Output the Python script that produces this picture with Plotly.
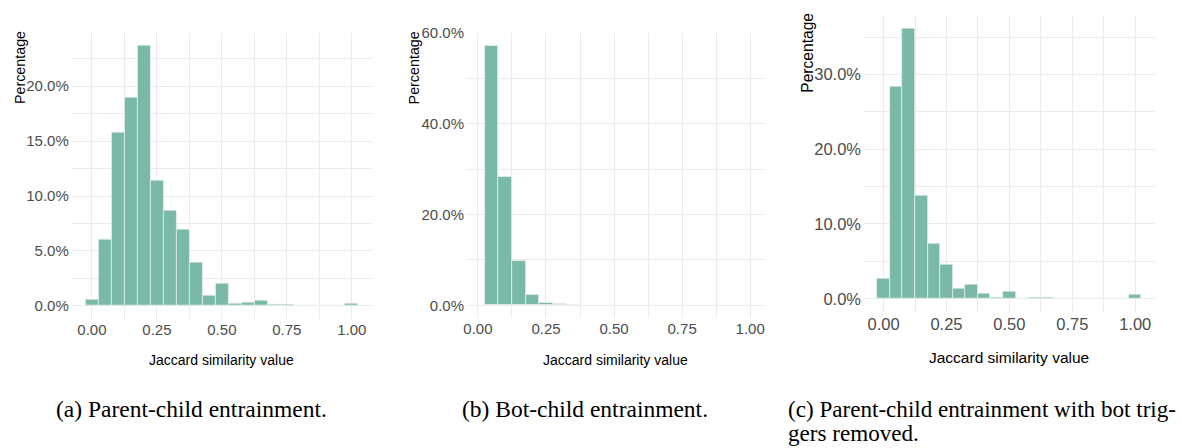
import plotly.graph_objects as go

W, H = 1182, 448

# ---- data (bin centres, percentage per bin) ----
bins_a = [0.00, 0.05, 0.10, 0.15, 0.20, 0.25, 0.30, 0.35, 0.40, 0.45, 0.50,
          0.55, 0.60, 0.65, 0.70, 0.75, 0.80, 0.85, 0.90, 0.95, 1.00]
pct_a = [0.54, 6.06, 15.76, 18.99, 23.70, 11.37, 8.69, 6.93, 3.97, 0.93, 2.00,
         0.20, 0.27, 0.50, 0.09, 0.12, 0.0, 0.0, 0.0, 0.0, 0.20]

bins_b = [0.05, 0.10, 0.15, 0.20, 0.25, 0.30, 0.35]
pct_b = [57.2, 28.3, 9.75, 2.24, 0.58, 0.20, 0.12]

bins_c = [0.00, 0.05, 0.10, 0.15, 0.20, 0.25, 0.30, 0.35, 0.40, 0.45, 0.50,
          0.55, 0.60, 0.65, 0.70, 0.75, 0.80, 0.85, 0.90, 0.95, 1.00]
pct_c = [2.76, 28.4, 36.2, 13.84, 7.4, 4.6, 1.36, 1.95, 0.63, 0.13, 0.92,
         0.0, 0.13, 0.13, 0.0, 0.0, 0.0, 0.0, 0.0, 0.0, 0.57]

x_ticks = [0.0, 0.25, 0.5, 0.75, 1.0]
x_ticktext = ["0.00", "0.25", "0.50", "0.75", "1.00"]
y_ticks_a = [0, 5, 10, 15, 20]
y_ticktext_a = ["0.0%", "5.0%", "10.0%", "15.0%", "20.0%"]
y_ticks_b = [0, 20, 40, 60]
y_ticktext_b = ["0.0%", "20.0%", "40.0%", "60.0%"]
y_ticks_c = [0, 10, 20, 30]
y_ticktext_c = ["0.0%", "10.0%", "20.0%", "30.0%"]

x_title = "Jaccard similarity value"
y_title = "Percentage"
captions = ["(a) Parent-child entrainment.",
            "(b) Bot-child entrainment.",
            "(c) Parent-child entrainment with bot trig-",
            "gers removed."]

BAR = "rgb(122,185,168)"
EDGE = "rgba(236,240,242,0.9)"
GRID = "#ebebeb"
TICKC = "#4d4d4d"
SANS = "Liberation Sans, Arial, sans-serif"
SERIF = "Liberation Serif, Times New Roman, serif"


def fx(p):
    return p / W


def fy(p):
    return 1 - p / H


fig = go.Figure()
for i, (bx, py) in enumerate([(bins_a, pct_a), (bins_b, pct_b), (bins_c, pct_c)]):
    sfx = "" if i == 0 else str(i + 1)
    fig.add_trace(go.Bar(x=bx, y=py, width=0.05, xaxis="x" + sfx, yaxis="y" + sfx,
                         marker=dict(color=BAR, line=dict(color=EDGE, width=0.8)),
                         showlegend=False))

# panel geometry in pixels: (left, right, top, bottom), x-range, y-range, ticks
panels = [
    dict(l=68.1, r=369.5, t=25.0, b=316.5, xr=[-0.0775, 1.0775], yr=[-1.185, 24.885],
         yt=y_ticks_a, ytt=y_ticktext_a, ydt=2.5, fs=15),
    dict(l=465.0, r=763.3, t=25.4, b=315.9, xr=[-0.040, 1.051], yr=[-2.86, 60.06],
         yt=y_ticks_b, ytt=y_ticktext_b, ydt=10, fs=15),
    dict(l=863.7, r=1155.6, t=6.7, b=309.8, xr=[-0.0775, 1.0775], yr=[-1.81, 38.01],
         yt=y_ticks_c, ytt=y_ticktext_c, ydt=5, fs=16.5),
]

layout = dict(width=W, height=H, margin=dict(l=0, r=0, t=0, b=0),
              paper_bgcolor="white", plot_bgcolor="white", bargap=0,
              showlegend=False)

for i, p in enumerate(panels):
    sfx = "" if i == 0 else str(i + 1)
    layout["xaxis" + sfx] = dict(
        domain=[fx(p["l"]), fx(p["r"])], range=p["xr"], anchor="y" + sfx,
        tickmode="array", tickvals=x_ticks, ticktext=x_ticktext,
        showgrid=True, gridcolor=GRID, gridwidth=1, zeroline=False, showline=False,
        ticks="", tickfont=dict(family=SANS, size=p["fs"], color=TICKC),
        minor=dict(tickmode="array", tickvals=[0.125, 0.375, 0.625, 0.875],
                   showgrid=True, gridcolor=GRID, gridwidth=0.6),
        ticklabelstandoff=0, fixedrange=True)
    layout["yaxis" + sfx] = dict(
        domain=[fy(p["b"]), fy(p["t"])], range=p["yr"], anchor="x" + sfx,
        tickmode="array", tickvals=p["yt"], ticktext=p["ytt"],
        showgrid=True, gridcolor=GRID, gridwidth=1, zeroline=False, showline=False,
        ticks="", tickfont=dict(family=SANS, size=p["fs"], color=TICKC),
        minor=dict(tickmode="linear", tick0=p["ydt"], dtick=2 * p["ydt"],
                   showgrid=True, gridcolor=GRID, gridwidth=0.6),
        ticklabelstandoff=2, fixedrange=True)

fig.update_layout(**layout)

ann = []
# x titles
for (cx, cy, fs) in [(218.8, 358, 14), (614.0, 358, 14), (1009.7, 356, 15.5)]:
    ann.append(dict(text=x_title, x=fx(cx), y=fy(cy), xref="paper", yref="paper",
                    xanchor="center", yanchor="middle", showarrow=False,
                    font=dict(family=SANS, size=fs, color="black")))
# y titles
for (cx, cy, fs) in [(16.7, 60.5, 14.3), (411.7, 60.5, 14.3), (807.0, 46.0, 15.6)]:
    ann.append(dict(text=y_title, x=fx(cx), y=fy(cy), xref="paper", yref="paper",
                    xanchor="center", yanchor="middle", showarrow=False, textangle=-90,
                    font=dict(family=SANS, size=fs, color="black")))
# captions
for txt, (lx, cy), fs in zip(captions, [(50, 408), (458, 408), (785, 408), (785, 433)],
                             [23.5, 23.5, 23.1, 23.1]):
    ann.append(dict(text=txt, x=fx(lx), y=fy(cy), xref="paper", yref="paper",
                    xanchor="left", yanchor="middle", showarrow=False,
                    font=dict(family=SERIF, size=fs, color="black")))
fig.update_layout(annotations=ann)

fig.write_html("out.html", config=dict(displayModeBar=False),
               post_script="document.body.style.margin='0';"
                           "document.body.style.overflow='hidden';")
